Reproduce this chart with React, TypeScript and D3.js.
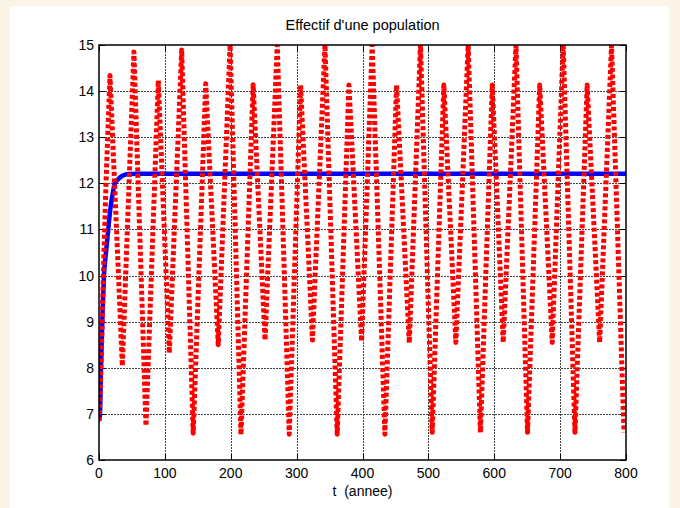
import React from 'react';
import * as d3 from 'd3';

const title = "Effectif d'une population";
const xLabel = 't  (annee)';
const xTicks = [0, 100, 200, 300, 400, 500, 600, 700, 800];
const yTicks = [6, 7, 8, 9, 10, 11, 12, 13, 14, 15];

// red series: read extrema (years, effectif)
const redT = [0, 3, 6.6, 10.6, 16.7, 35.4, 53, 71.3, 90, 106.7, 125.5, 143, 162, 181, 199, 215.5, 234, 252, 270.6, 288.8, 306, 324, 343, 361.6, 379.4, 398.6, 414.7, 434, 451.7, 471, 488, 505.8, 523.5, 541.7, 560.4, 579, 597, 613.6, 633, 650.5, 669, 688, 704.6, 722.5, 741, 760, 778, 797];
const redV = [6.85, 8.0, 10.0, 12.0, 14.34, 8.04, 14.85, 6.74, 14.23, 8.32, 14.89, 6.58, 14.16, 8.5, 15.0, 6.55, 14.14, 8.6, 15.0, 6.56, 14.13, 8.6, 15.0, 6.56, 14.13, 8.58, 15.0, 6.56, 14.13, 8.54, 15.0, 6.6, 14.13, 8.55, 15.0, 6.6, 14.13, 8.55, 15.0, 6.6, 14.13, 8.55, 15.0, 6.6, 14.13, 8.55, 15.0, 6.6];

// blue series
const blueT = [0, 1.5, 3, 5, 7.6, 10.6, 14, 17.7, 20.5, 24, 29, 35, 45, 60, 800];
const blueV = [6.85, 7.0, 8.0, 9.0, 10.0, 10.5, 11.0, 11.5, 11.75, 12.0, 12.09, 12.16, 12.2, 12.21, 12.21];

export default function App() {
  const W = 680, H = 508;
  const L = 99, R = 626, T = 45, B = 460;
  const x = d3.scaleLinear().domain([0, 800]).range([L, R]);
  const y = d3.scaleLinear().domain([6, 15]).range([B, T]);
  const redLine = d3.line<number>().x((d) => x(redT[d])).y((d) => y(redV[d]));
  const blueLine = d3.line<number>().x((d) => x(blueT[d])).y((d) => y(blueV[d])).curve(d3.curveMonotoneX);
  const font = 'Liberation Sans, Arial, Helvetica, sans-serif';
  return (
    <svg width={W} height={H} style={{ position: 'absolute', left: 0, top: 0 }} fontFamily={font}>
      <rect x={0} y={0} width={W} height={H} fill="#fcf4e6" />
      <rect x={10} y={6} width={659} height={H - 6} fill="#ffffff" />
      <defs>
        <clipPath id="plotclip">
          <rect x={L} y={T} width={R - L} height={B - T} />
        </clipPath>
      </defs>
      {/* grid */}
      <g stroke="#444" strokeWidth={1} strokeDasharray="2 1">
        {xTicks.slice(1, -1).map((t) => (
          <line key={'gx' + t} x1={Math.round(x(t)) + 0.5} x2={Math.round(x(t)) + 0.5} y1={T} y2={B} />
        ))}
        {yTicks.slice(1, -1).map((t) => (
          <line key={'gy' + t} y1={Math.round(y(t)) + 0.5} y2={Math.round(y(t)) + 0.5} x1={L} x2={R} />
        ))}
      </g>
      {/* ticks */}
      <g stroke="#000" strokeWidth={1}>
        {xTicks.map((t) => (
          <g key={'tx' + t}>
            <line x1={Math.round(x(t)) + 0.5} x2={Math.round(x(t)) + 0.5} y1={B} y2={B - 6} />
            <line x1={Math.round(x(t)) + 0.5} x2={Math.round(x(t)) + 0.5} y1={T} y2={T + 6} />
          </g>
        ))}
        {yTicks.map((t) => (
          <g key={'ty' + t}>
            <line y1={Math.round(y(t)) + 0.5} y2={Math.round(y(t)) + 0.5} x1={L} x2={L + 6} />
            <line y1={Math.round(y(t)) + 0.5} y2={Math.round(y(t)) + 0.5} x1={R} x2={R - 6} />
          </g>
        ))}
      </g>
      <g clipPath="url(#plotclip)">
        <path d={blueLine(blueT.map((_, i) => i)) || ''} fill="none" stroke="#0000ff" strokeWidth={4.5} />
        <path d={redLine(redT.map((_, i) => i)) || ''} fill="none" stroke="#ff0000" strokeWidth={5} strokeDasharray="4 2.5" strokeLinejoin="round" />
      </g>
      {/* axes box */}
      <rect x={L} y={T} width={R - L} height={B - T} fill="none" stroke="#000" strokeWidth={1.5} />
      {/* tick labels */}
      <g fontSize={14} fill="#000">
        {xTicks.map((t) => (
          <text key={'lx' + t} x={x(t)} y={478} textAnchor="middle">{t}</text>
        ))}
        {yTicks.map((t) => (
          <text key={'ly' + t} x={94} y={y(t)} dy="0.36em" textAnchor="end">{t}</text>
        ))}
      </g>
      <text x={(L + R) / 2} y={496} textAnchor="middle" fontSize={14} style={{ whiteSpace: 'pre' }}>{xLabel}</text>
      <text x={(L + R) / 2} y={30} textAnchor="middle" fontSize={14.5}>{title}</text>
    </svg>
  );
}
